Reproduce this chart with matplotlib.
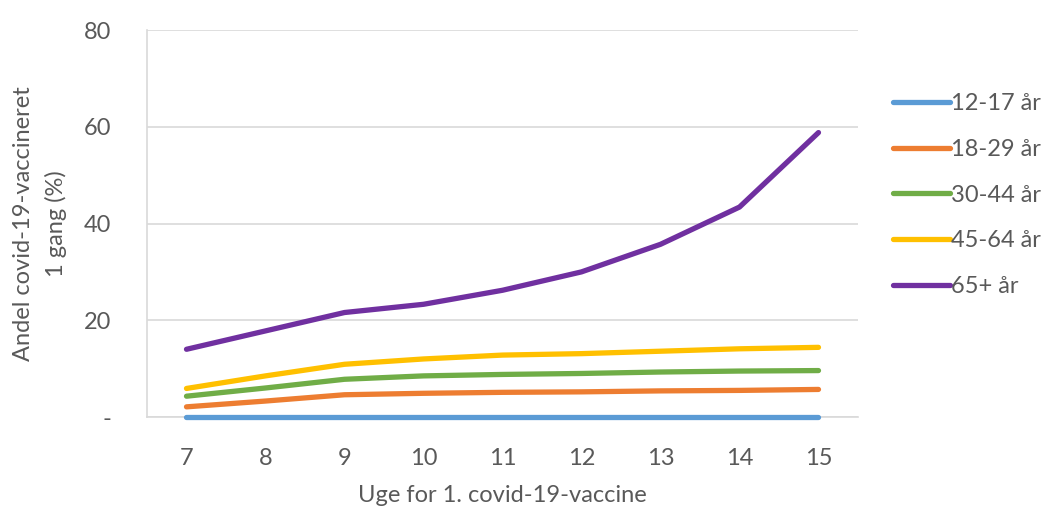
import matplotlib.pyplot as plt
from matplotlib.ticker import FuncFormatter

plt.rcParams["font.family"] = ["Lato", "DejaVu Sans"]

weeks = [7, 8, 9, 10, 11, 12, 13, 14, 15]
age_groups = ["12-17 år", "18-29 år", "30-44 år", "45-64 år", "65+ år"]
share_12_17 = [0.1, 0.1, 0.1, 0.1, 0.1, 0.1, 0.1, 0.1, 0.1]
share_18_29 = [2.1, 3.3, 4.6, 4.9, 5.1, 5.2, 5.4, 5.5, 5.7]
share_30_44 = [4.3, 6.0, 7.8, 8.5, 8.8, 9.0, 9.3, 9.5, 9.6]
share_45_64 = [5.9, 8.5, 10.9, 12.0, 12.8, 13.1, 13.6, 14.1, 14.4]
share_65 = [14.0, 17.8, 21.6, 23.3, 26.2, 30.0, 35.7, 43.4, 58.8]
colors = ["#5b9bd5", "#ed7d31", "#70ad47", "#ffc000", "#7030a0"]

fig = plt.figure(figsize=(10.53, 5.07), dpi=100)
ax = fig.add_axes([0.1396, 0.1775, 0.6752, 0.7633])

series = [share_12_17, share_18_29, share_30_44, share_45_64, share_65]
for vals, label, c in zip(series, age_groups, colors):
    ax.plot(weeks, vals, color=c, lw=3.8, label=label, solid_capstyle="round",
            clip_on=False, zorder=5)

ax.set_xlim(6.5, 15.5)
ax.set_ylim(0, 80)
ax.set_yticks([0, 20, 40, 60, 80])
ax.set_xticks(weeks)
ax.yaxis.set_major_formatter(FuncFormatter(lambda v, p: "-" if v == 0 else f"{v:.0f}"))
ax.grid(axis="y", color="#d9d9d9", lw=1.2)
ax.set_axisbelow(True)
for s in ["top", "right"]:
    ax.spines[s].set_visible(False)
for s in ["left", "bottom"]:
    ax.spines[s].set_color("#d9d9d9")
    ax.spines[s].set_linewidth(1.2)
ax.tick_params(length=0, labelsize=17, colors="#595959")
ax.tick_params(axis="x", pad=22)
ax.tick_params(axis="y", pad=26)

ax.set_xlabel("Uge for 1. covid-19-vaccine", fontsize=17, color="#595959", labelpad=12)
ax.set_ylabel("Andel covid-19-vaccineret\n1 gang (%)", fontsize=17, color="#595959",
              labelpad=12, linespacing=1.6)

leg = ax.legend(loc="upper left", bbox_to_anchor=(1.02, 0.892), frameon=False,
                fontsize=17, labelcolor="#595959", handlelength=2.4,
                handletextpad=0.05, labelspacing=1.05)

fig.savefig("out.png", dpi=100)
